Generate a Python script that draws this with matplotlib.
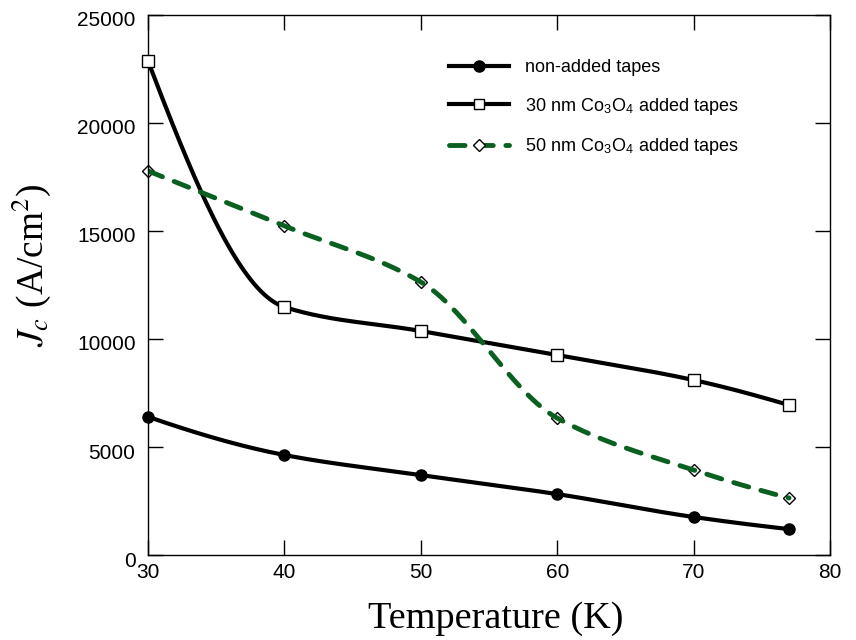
import numpy as np
import matplotlib
matplotlib.use("Agg")
import matplotlib.pyplot as plt
from matplotlib.ticker import MultipleLocator
from matplotlib.lines import Line2D
from matplotlib.transforms import ScaledTranslation

plt.rcParams['font.family'] = ['Liberation Sans', 'DejaVu Sans']
plt.rcParams['mathtext.fontset'] = 'stix'

temperature = [30, 40, 50, 60, 70, 77]
jc_non_added = [6400, 4630, 3700, 2820, 1760, 1200]
jc_30nm = [22870, 11480, 10370, 9260, 8100, 6940]
jc_50nm = [17780, 15230, 12640, 6340, 3935, 2640]
labels = ["non-added tapes",
          r"30 nm Co$_\mathregular{3}$O$_\mathregular{4}$ added tapes",
          r"50 nm Co$_\mathregular{3}$O$_\mathregular{4}$ added tapes"]


def pchip(x, y, xs):
    x = np.asarray(x, float); y = np.asarray(y, float)
    h = np.diff(x); d = np.diff(y) / h
    n = len(x); m = np.zeros(n)
    for k in range(1, n - 1):
        if d[k - 1] * d[k] > 0:
            w1 = 2 * h[k] + h[k - 1]; w2 = h[k] + 2 * h[k - 1]
            m[k] = (w1 + w2) / (w1 / d[k - 1] + w2 / d[k])
    def end(h0, h1, d0, d1):
        v = ((2 * h0 + h1) * d0 - h0 * d1) / (h0 + h1)
        if np.sign(v) != np.sign(d0):
            v = 0
        elif np.sign(d0) != np.sign(d1) and abs(v) > abs(3 * d0):
            v = 3 * d0
        return v
    m[0] = end(h[0], h[1], d[0], d[1])
    m[-1] = end(h[-1], h[-2], d[-1], d[-2])
    ys = np.empty_like(xs)
    for i, xv in enumerate(xs):
        k = min(max(np.searchsorted(x, xv) - 1, 0), n - 2)
        t = (xv - x[k]) / h[k]
        h00 = 2 * t**3 - 3 * t**2 + 1; h10 = t**3 - 2 * t**2 + t
        h01 = -2 * t**3 + 3 * t**2; h11 = t**3 - t**2
        ys[i] = h00 * y[k] + h10 * h[k] * m[k] + h01 * y[k + 1] + h11 * h[k] * m[k + 1]
    return ys


fig = plt.figure(figsize=(8.56, 6.4), dpi=100)
ax = fig.add_axes([0.1729, 0.1328, 0.7967, 0.8438])

xs = np.linspace(temperature[0], temperature[-1], 400)
green = '#0a6020'
dash = (0, (3.2, 2.6))

ax.plot(xs, pchip(temperature, jc_non_added, xs), color='black', lw=3, zorder=2)
ax.plot(temperature, jc_non_added, 'o', color='black', ms=8, zorder=3, clip_on=False)
ax.plot(xs, pchip(temperature, jc_30nm, xs), color='black', lw=3, zorder=2)
ax.plot(temperature, jc_30nm, 's', mfc='white', mec='black', mew=1, ms=8, zorder=3, clip_on=False)
ax.plot(xs, pchip(temperature, jc_50nm, xs), color=green, lw=3.5, ls=dash,
        dash_capstyle='round', zorder=2)
ax.plot(temperature, jc_50nm, 'D', mfc='white', mec='black', mew=1, ms=6, zorder=1.9, clip_on=False)

h1 = Line2D([], [], color='black', lw=3, marker='o', ms=8)
h2 = Line2D([], [], color='black', lw=3, marker='s', mfc='white', mec='black', ms=7, mew=1)
h3 = Line2D([], [], color=green, lw=3.5, ls=dash, dash_capstyle='round',
            marker='D', mfc='white', mec='black', ms=6, mew=1)
ax.legend([h1, h2, h3], labels, loc='upper left', bbox_to_anchor=(0.418, 0.948),
          frameon=False, fontsize=13, handlelength=3.3, labelspacing=1.08, handletextpad=0.9)

ax.set_xlim(30, 80)
ax.set_ylim(0, 25000)
ax.xaxis.set_major_locator(MultipleLocator(10))
ax.yaxis.set_major_locator(MultipleLocator(5000))
ax.tick_params(direction='in', length=11, width=1, labelsize=15, top=True, right=True, pad=6)
ax.tick_params(axis='y', pad=9)
for s in ax.spines.values():
    s.set_linewidth(1)

ax.set_xlabel('Temperature (K)', family='Liberation Serif', fontsize=27.5)
ax.xaxis.set_label_coords(0.51, -0.085)
ax.set_ylabel(r'$J_c$ (A/cm$^2$)', family='Liberation Serif', fontsize=27)
ax.yaxis.set_label_coords(-0.14, 0.537)

fig.canvas.draw()
off = ScaledTranslation(0, -4 / 100, fig.dpi_scale_trans)
for t in ax.yaxis.get_major_ticks():
    t.label1.set_transform(t.label1.get_transform() + off)

fig.savefig('out.png', dpi=100)
